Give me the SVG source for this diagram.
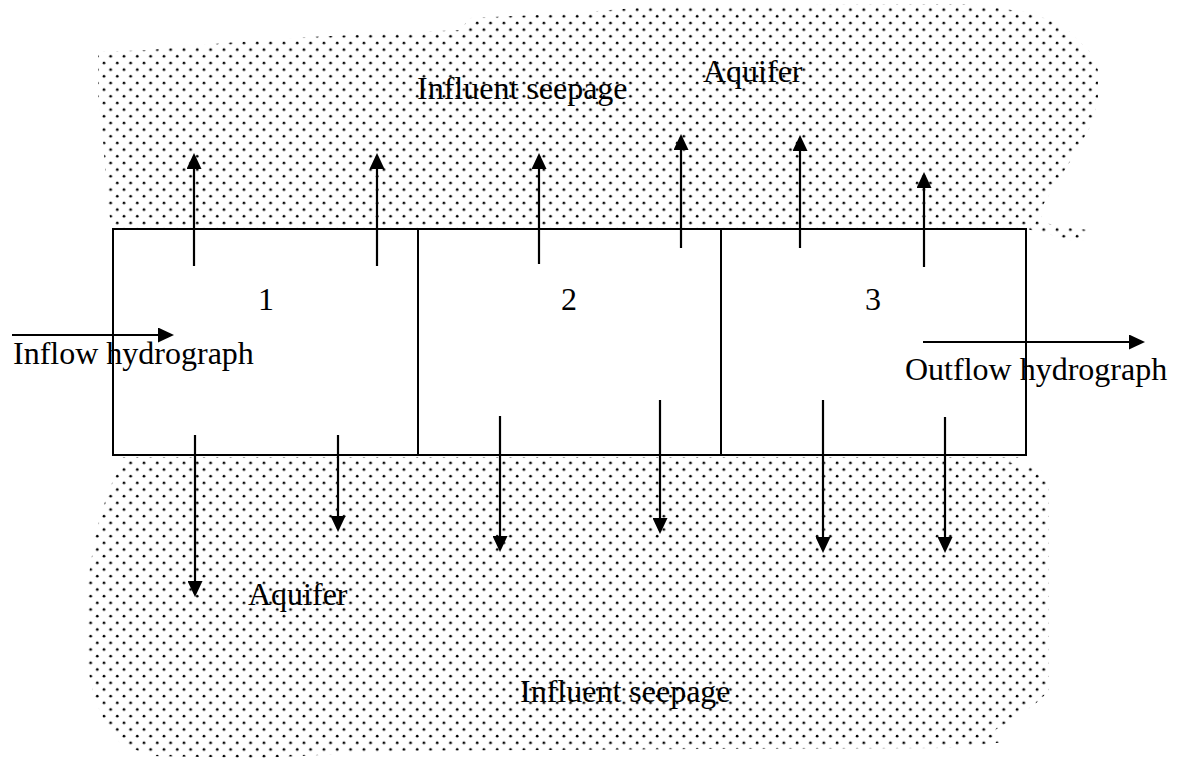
<svg xmlns="http://www.w3.org/2000/svg" width="1183" height="759" viewBox="0 0 1183 759">
  <style>
    .lbl { font-family: "Liberation Serif", "Times New Roman", serif; font-size: 32px; fill: #000; }
    .cell { fill: #fff; stroke: #000; stroke-width: 2; }
    .flow { stroke: #000; stroke-width: 2.2; fill: none; marker-end: url(#head); }
    .zone { fill: url(#dots); stroke: none; }
  </style>
  <defs>
    <pattern id="dots" patternUnits="userSpaceOnUse" x="1" y="0" width="13.33" height="13.33">
      <circle cx="3" cy="3" r="1.35" fill="#000"/>
      <circle cx="9.67" cy="9.67" r="1.35" fill="#000"/>
    </pattern>
    <marker id="head" markerUnits="userSpaceOnUse" viewBox="0 0 16 15" refX="13" refY="7.5" markerWidth="16" markerHeight="15" orient="auto">
      <path d="M0,0 L16,7.5 L0,15 z" fill="#000"/>
    </marker>
  </defs>
  <rect width="1183" height="759" fill="#fff"/>

  <g id="aquifer-top">
    <path class="zone" d="M98,52 L150,50 L225,43 L310,37 L460,30 L470,18 L560,14 L660,6 L970,4 L1025,12 L1050,20 L1070,32 L1090,52 L1098,70 L1098,100 L1091,125 L1080,145 L1066,168 L1052,190 L1040,210 L1043,222 L1060,227 L1089,230 L1083,241 L1062,241 L1050,234 L1026,229 L113,229 L108,210 L103,140 L98,95 Z"/>
  </g>
  <g id="aquifer-bottom">
    <path class="zone" d="M113,457 L1026,457 L1008,462 L1040,469 L1049,480 L1049,690 L1040,700 L1020,715 L995,730 L1005,742 L950,748 L700,749 L400,751 L260,758 L150,756 L120,743 L105,722 L95,700 L88,670 L86,600 L88,580 L95,537 L102,510 L112,483 L123,462 Z"/>
  </g>

  <g id="reach-1">
    <rect class="cell" x="113" y="229" width="305" height="226"/>
    <text class="lbl" x="266" y="310" text-anchor="middle">1</text>
  </g>
  <g id="reach-2">
    <rect class="cell" x="418" y="229" width="303" height="226"/>
    <text class="lbl" x="569" y="310" text-anchor="middle">2</text>
  </g>
  <g id="reach-3">
    <rect class="cell" x="721" y="229" width="305" height="226"/>
    <text class="lbl" x="873" y="310" text-anchor="middle">3</text>
  </g>

  <g id="connectors">
    <line class="flow" x1="12" y1="335" x2="171" y2="335"/>
    <line class="flow" x1="923" y1="342" x2="1142" y2="342"/>
    <line class="flow" x1="194" y1="266" x2="194" y2="156"/>
    <line class="flow" x1="377" y1="266" x2="377" y2="156"/>
    <line class="flow" x1="539" y1="264" x2="539" y2="156"/>
    <line class="flow" x1="681" y1="248" x2="681" y2="137"/>
    <line class="flow" x1="800" y1="248" x2="800" y2="138"/>
    <line class="flow" x1="924" y1="267" x2="924" y2="175"/>
    <line class="flow" x1="195" y1="435" x2="195" y2="594"/>
    <line class="flow" x1="338" y1="435" x2="338" y2="529"/>
    <line class="flow" x1="500" y1="416" x2="500" y2="549"/>
    <line class="flow" x1="660" y1="400" x2="660" y2="531"/>
    <line class="flow" x1="823" y1="400" x2="823" y2="550"/>
    <line class="flow" x1="945" y1="417" x2="945" y2="550"/>
  </g>

  <g id="labels">
    <text class="lbl" x="417" y="99">Influent seepage</text>
    <text class="lbl" x="703" y="82">Aquifer</text>
    <text class="lbl" x="13" y="364">Inflow hydrograph</text>
    <text class="lbl" x="905" y="380">Outflow hydrograph</text>
    <text class="lbl" x="248" y="605">Aquifer</text>
    <text class="lbl" x="520" y="702">Influent seepage</text>
  </g>
</svg>
